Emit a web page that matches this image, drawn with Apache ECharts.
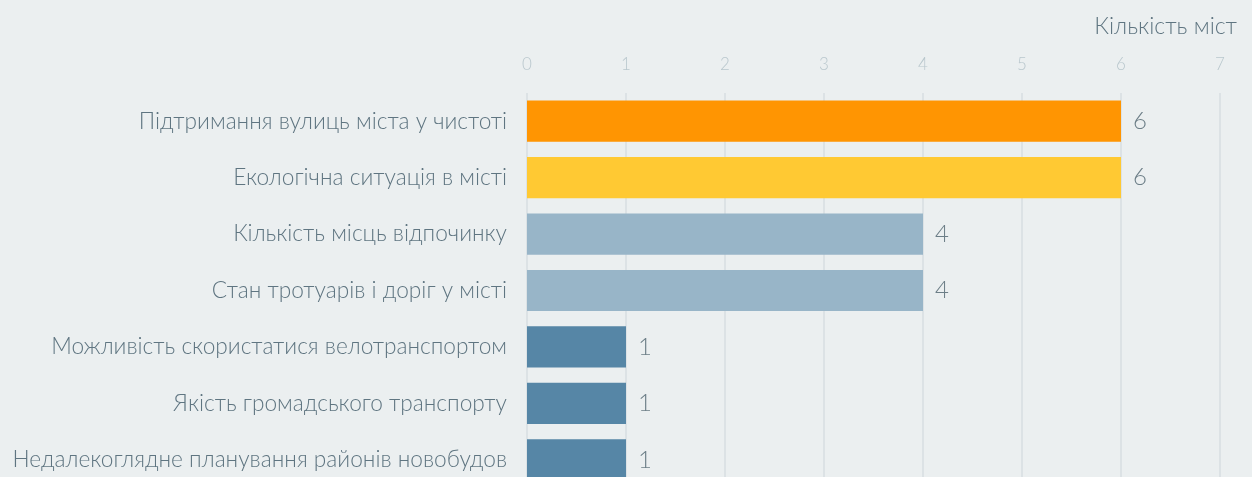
<!DOCTYPE html>
<html>
<head>
<meta charset="utf-8">
<script src="https://cdn.jsdelivr.net/npm/echarts@6/dist/echarts.min.js"></script>
<style>
  html, body { margin: 0; padding: 0; background: #ebeff0; overflow: hidden; }
  #chart { width: 1252px; height: 500px; }
</style>
</head>
<body>
<div id="chart"></div>
<script>
// data
var categories = [
  'Підтримання вулиць міста у чистоті',
  'Екологічна ситуація в місті',
  'Кількість місць відпочинку',
  'Стан тротуарів і доріг у місті',
  'Можливість скористатися велотранспортом',
  'Якість громадського транспорту',
  'Недалекоглядне планування районів новобудов'
];
var values = [6, 6, 4, 4, 1, 1, 1];
var axisTitle = 'Кількість міст';

// кольори стовпців
var barColors = ['#ff9502', '#ffc933', '#98b5c8', '#98b5c8', '#5686a6', '#5686a6', '#5686a6'];

var chart = echarts.init(document.getElementById('chart'));
chart.setOption({
  backgroundColor: '#ebeff0',
  textStyle: { fontFamily: 'Lato' },
  // нижня частина сітки виходить за межі вікна (як в оригіналі)
  grid: { left: 527, top: 93, right: 32, bottom: 12, containLabel: false },
  xAxis: {
    type: 'value',
    position: 'top',
    min: 0,
    max: 7,
    interval: 1,
    name: axisTitle,
    nameLocation: 'end',
    nameGap: 17,
    nameTextStyle: {
      color: '#5f7581', fontSize: 23, fontWeight: 300,
      align: 'right', verticalAlign: 'bottom', padding: [0, 0, 55, 0]
    },
    axisLine: { show: false },
    axisTick: { show: false },
    axisLabel: { color: '#b9c7cd', fontSize: 17, fontWeight: 300, margin: 20 },
    splitLine: { show: true, lineStyle: { color: '#dce2e5', width: 2 } }
  },
  yAxis: {
    type: 'category',
    data: categories,
    inverse: true,
    axisLine: { show: false },
    axisTick: { show: false },
    axisLabel: { color: '#5f7581', fontSize: 22.7, fontWeight: 300, margin: 20 }
  },
  series: [{
    type: 'bar',
    barCategoryGap: '27%',
    data: values.map(function (v, i) {
      return { value: v, itemStyle: { color: barColors[i] } };
    }),
    label: {
      show: true,
      position: 'right',
      distance: 12,
      color: '#6c7e87',
      fontSize: 24,
      fontWeight: 300
    },
    silent: true
  }]
});
</script>
</body>
</html>
